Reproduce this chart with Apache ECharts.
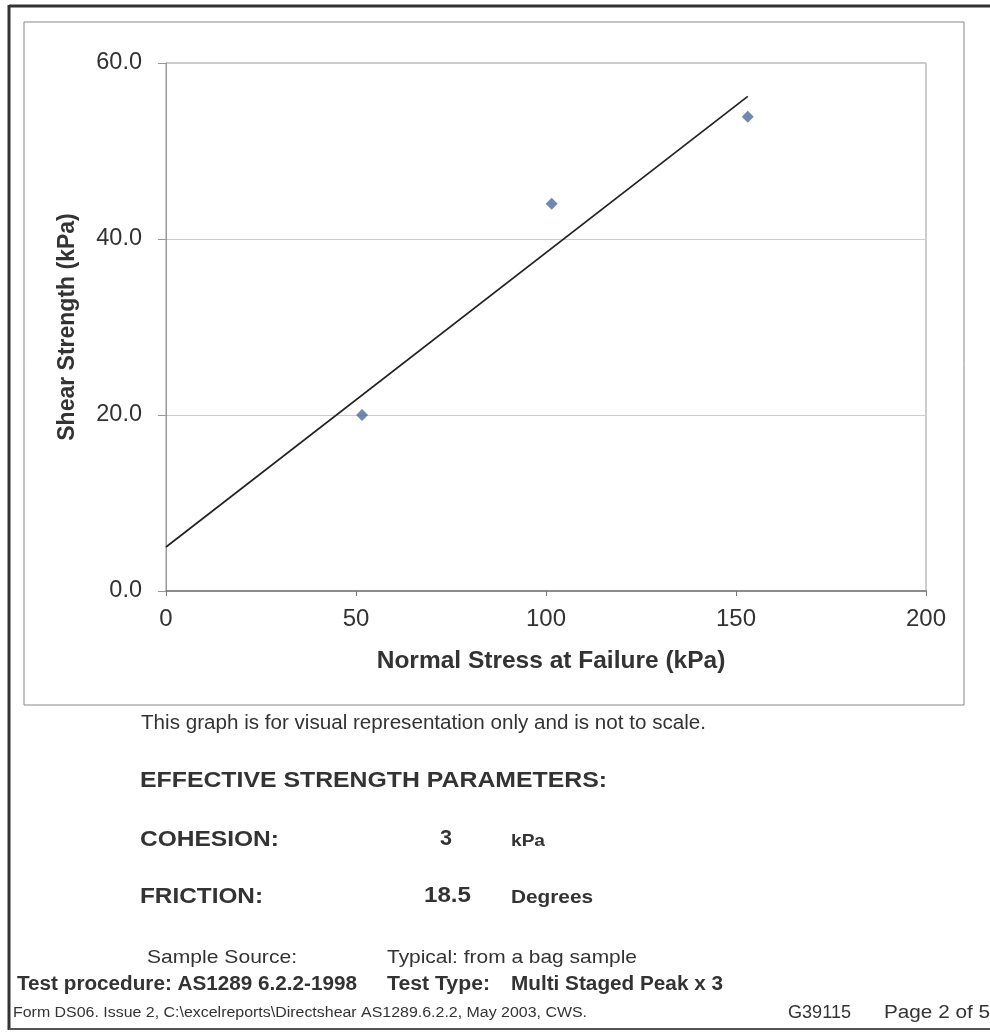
<!DOCTYPE html>
<html>
<head>
<meta charset="utf-8">
<script src="https://cdn.jsdelivr.net/npm/echarts@6/dist/echarts.min.js"></script>
<style>
html,body{margin:0;padding:0;background:#fff;}
#chart{width:990px;height:1032px;}
</style>
</head>
<body>
<div id="chart"></div>
<script>
// Data
const xTicks = [0, 50, 100, 150, 200];
const yTicks = [0, 20, 40, 60];
const normalStress = [51.6, 101.5, 153.1];
const shearStrength = [20.0, 44.0, 53.9];
const trendX = [0, 153.1];
const trendY = [5.0, 56.2];

const xTitle = 'Normal Stress at Failure (kPa)';
const yTitle = 'Shear Strength (kPa)';

const chart = echarts.init(document.getElementById('chart'), null, {renderer: 'canvas'});
const FONT = '"Liberation Sans", Arial, sans-serif';
const TXT = '#333';

const mctx = document.createElement('canvas').getContext('2d');
// text fitted to a target width (horizontal stretch like the scanned original)
function fit(x, y, s, size, bold, targetW, color) {
  const font = (bold ? 'bold ' : '') + size + 'px ' + FONT;
  mctx.font = font;
  const w = mctx.measureText(s).width;
  const sx = targetW / w;
  return {type: 'text', x: x, y: y, scaleX: sx, scaleY: 1, silent: true,
    style: {x: 0, y: 0, text: s, fill: color || TXT, font: font,
      textAlign: 'left', textVerticalAlign: 'middle'}};
}

const option = {
  animation: false,
  backgroundColor: '#fff',
  grid: {left: 166, top: 63, right: 64, bottom: 441, show: true, borderColor: '#999', borderWidth: 1, backgroundColor: 'transparent'},
  xAxis: {
    type: 'value', min: xTicks[0], max: xTicks[xTicks.length - 1], interval: 50,
    name: xTitle, nameLocation: 'middle', nameGap: 58,
    nameTextStyle: {fontFamily: FONT, fontWeight: 'bold', fontSize: 24.5, color: TXT, padding: [0, 0, 0, 10]},
    axisLine: {lineStyle: {color: '#777', width: 1.5}},
    axisTick: {show: true, length: 5, lineStyle: {color: '#777'}},
    axisLabel: {fontFamily: FONT, fontSize: 24, color: TXT, margin: 16},
    splitLine: {show: false}
  },
  yAxis: {
    type: 'value', min: yTicks[0], max: yTicks[yTicks.length - 1], interval: 20,
    name: yTitle, nameLocation: 'middle', nameGap: 87, nameRotate: 90,
    nameTextStyle: {fontFamily: FONT, fontWeight: 'bold', fontSize: 23, color: TXT},
    axisLine: {show: true, lineStyle: {color: '#999', width: 1}},
    axisTick: {show: true, length: 8, lineStyle: {color: '#999'}},
    axisLabel: {fontFamily: FONT, fontSize: 23.5, color: TXT, margin: 24, formatter: v => v.toFixed(1)},
    splitLine: {show: true, lineStyle: {color: '#ccc', width: 1}}
  },
  series: [
    {
      type: 'line', data: trendX.map((x, i) => [x, trendY[i]]),
      showSymbol: false, symbol: 'none', lineStyle: {color: '#222', width: 1.7}, z: 2
    },
    {
      type: 'scatter', data: normalStress.map((x, i) => [x, shearStrength[i]]),
      symbol: 'diamond', symbolSize: 12, itemStyle: {color: '#4d6b9c'}, z: 3
    }
  ],
  graphic: [
    // page border
    {type: 'line', silent: true, shape: {x1: 9, y1: 6, x2: 990, y2: 6}, style: {stroke: '#333', lineWidth: 3}},
    {type: 'line', silent: true, shape: {x1: 9, y1: 5, x2: 9, y2: 1030}, style: {stroke: '#333', lineWidth: 3}},
    {type: 'line', silent: true, shape: {x1: 9, y1: 1029, x2: 990, y2: 1029}, style: {stroke: '#555', lineWidth: 2}},
    // chart box
    {type: 'rect', silent: true, shape: {x: 24, y: 22, width: 940, height: 683}, style: {fill: 'none', stroke: '#888', lineWidth: 1}},
    fit(141, 723, 'This graph is for visual representation only and is not to scale.', 20, false, 565),
    fit(140, 781, 'EFFECTIVE STRENGTH PARAMETERS:', 22, true, 467),
    fit(140, 840, 'COHESION:', 22, true, 139),
    fit(440, 839, '3', 22, true, 12),
    fit(511, 841, 'kPa', 17, true, 34),
    fit(140, 897, 'FRICTION:', 22, true, 123),
    fit(424, 896, '18.5', 22, true, 47),
    fit(511, 898, 'Degrees', 19, true, 82),
    fit(147, 958, 'Sample Source:', 19, false, 150),
    fit(387, 958, 'Typical: from a bag sample', 19, false, 250),
    fit(17, 985, 'Test procedure: AS1289 6.2.2-1998', 19.5, true, 340),
    fit(387, 985, 'Test Type:', 19.5, true, 103),
    fit(511, 985, 'Multi Staged Peak x 3', 19.5, true, 212),
    fit(13, 1013, 'Form DS06. Issue 2, C:\\excelreports\\Directshear AS1289.6.2.2, May 2003, CWS.', 14, false, 574),
    fit(788, 1013, 'G39115', 18, false, 63),
    fit(884, 1013, 'Page 2 of 5', 18, false, 106)
  ]
};
chart.setOption(option);
</script>
</body>
</html>
